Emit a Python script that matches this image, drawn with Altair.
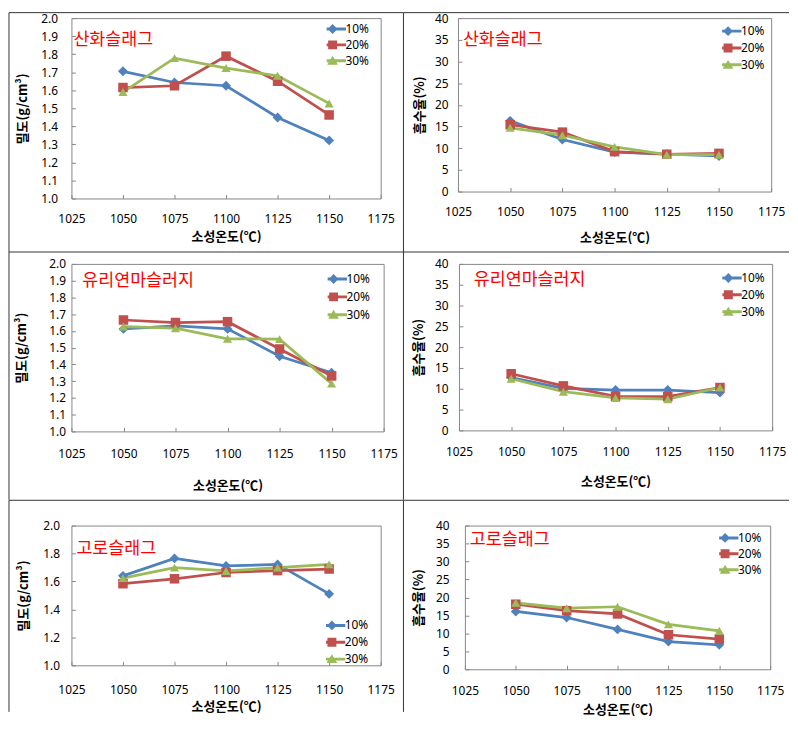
import altair as alt
import pandas as pd

# ---------------- data ----------------
temps = [1050, 1075, 1100, 1125, 1150]
series = ["10%", "20%", "30%"]
x_ticks = [1025, 1050, 1075, 1100, 1125, 1150, 1175]
material_names = ["산화슬래그", "유리연마슬러지", "고로슬래그"]

density_title = "밀도(g/cm³)"
absorption_title = "흡수율(%)"
x_title = "소성온도(℃)"

density_ticks_fine = [1.0, 1.1, 1.2, 1.3, 1.4, 1.5, 1.6, 1.7, 1.8, 1.9, 2.0]
density_ticks_coarse = [1.0, 1.2, 1.4, 1.6, 1.8, 2.0]
absorption_ticks = [0, 5, 10, 15, 20, 25, 30, 35, 40]

oxid_density_10 = [1.705, 1.643, 1.625, 1.449, 1.322]
oxid_density_20 = [1.615, 1.625, 1.789, 1.650, 1.463]
oxid_density_30 = [1.590, 1.778, 1.723, 1.680, 1.527]
oxid_absorb_10 = [16.3, 12.0, 9.1, 8.6, 8.2]
oxid_absorb_20 = [15.4, 13.7, 9.2, 8.6, 8.8]
oxid_absorb_30 = [14.7, 13.0, 10.3, 8.5, 8.5]

glass_density_10 = [1.612, 1.630, 1.612, 1.449, 1.350]
glass_density_20 = [1.665, 1.650, 1.655, 1.492, 1.331]
glass_density_30 = [1.626, 1.616, 1.553, 1.551, 1.285]
glass_absorb_10 = [12.7, 10.1, 9.7, 9.7, 9.1]
glass_absorb_20 = [13.6, 10.7, 8.2, 8.1, 10.3]
glass_absorb_30 = [12.4, 9.3, 7.8, 7.5, 10.3]

blast_density_10 = [1.640, 1.765, 1.711, 1.722, 1.511]
blast_density_20 = [1.584, 1.619, 1.664, 1.678, 1.689]
blast_density_30 = [1.624, 1.699, 1.675, 1.699, 1.722]
blast_absorb_10 = [16.1, 14.4, 11.1, 7.7, 6.8]
blast_absorb_20 = [18.1, 16.3, 15.4, 9.6, 8.4]
blast_absorb_30 = [18.5, 17.0, 17.4, 12.5, 10.7]

# ---------------- styles ----------------
colors = ["#4F81BD", "#C0504D", "#9BBB59"]
shapes = ["diamond", "square", "triangle-up"]
marker_sizes = [100, 85, 115]
_bar = "M-3,-0.33H3V0.33H-3Z"
legend_shapes = [
    _bar + "M0,-1.1L1.1,0L0,1.1L-1.1,0Z",
    _bar + "M-1,-1H1V1H-1Z",
    _bar + "M0,-1.1L1.2,0.9H-1.2Z",
]
GRAY = "#868686"
LINE_C = "#333333"
NUM_FONT = "Noto Sans, Noto Sans CJK KR"
KR_FONT = "Noto Sans CJK KR"


def make_df(v10, v20, v30):
    rows = []
    for s, vals in zip(series, [v10, v20, v30]):
        for t, v in zip(temps, vals):
            rows.append({"temp": t, "value": v, "series": s})
    return pd.DataFrame(rows)


def rule(**enc):
    return alt.Chart(pd.DataFrame({"d": [0]})).mark_rule(
        color=LINE_C, strokeWidth=1
    ).encode(**{k: alt.value(v) for k, v in enc.items()})


def panel(df, name, y_title, y_ticks, y_fmt, L, first_col):
    w, h = L["w"], L["h"]
    x_enc = alt.X(
        "temp:Q",
        scale=alt.Scale(domain=[x_ticks[0], x_ticks[-1]], nice=False, zero=False),
        axis=alt.Axis(
            values=x_ticks, format="d", title=x_title, offset=-4, tickSize=4,
            tickColor=GRAY, domain=False, grid=False, labelPadding=L["xpad"],
            labelBaseline="middle", labelFlush=False, labelOverlap=False,
            labelFontSize=12, labelFont=NUM_FONT, labelColor="#000",
            titleFont=KR_FONT, titleFontSize=13, titleFontWeight="bold",
            titleColor="#000", titleX=w / 2, titleY=L["xty"] + 4,
            titleBaseline="middle", titleAlign="center",
        ),
    )
    y_enc = alt.Y(
        "value:Q",
        scale=alt.Scale(domain=[y_ticks[0], y_ticks[-1]], nice=False, zero=False),
        axis=alt.Axis(
            values=y_ticks, format=y_fmt, title=y_title, offset=-4, tickSize=4,
            tickColor=GRAY, domain=False, grid=False, labelPadding=L["ypad"],
            labelFontSize=12, labelFont=NUM_FONT, labelColor="#000",
            titleFont=KR_FONT, titleFontSize=13, titleFontWeight="bold",
            titleColor="#000", titleX=L["ytx"] - 4, titleY=h / 2,
            titleAngle=270, titleBaseline="middle", titleAlign="center",
        ),
    )
    cscale = alt.Scale(domain=series, range=colors)

    layers = [rule(x=L["rl"], x2=L["rr"], y=L["rt"])]
    if first_col:
        layers.append(rule(x=L["rl"], y=L["rt"], y2=L["rb"]))
        layers.append(rule(x=L["rr"], y=L["rt"], y2=L["rb"]))

    lines = alt.Chart(df).mark_line(strokeWidth=2.75).encode(
        x=x_enc, y=y_enc, detail="series:N",
        color=alt.Color("series:N", scale=cscale, legend=None),
    )
    points = alt.Chart(df).mark_point(filled=True, opacity=1).encode(
        x=x_enc, y=y_enc,
        color=alt.Color("series:N", scale=cscale, legend=None),
        shape=alt.Shape("series:N", scale=alt.Scale(domain=series, range=shapes), legend=None),
        size=alt.Size("series:N", scale=alt.Scale(domain=series, range=marker_sizes), legend=None),
    )
    leg = alt.Legend(
        title=None, orient="none", legendX=L["lx"], legendY=L["ly"],
        symbolSize=81, clipHeight=L["ls"], rowPadding=0, labelOffset=7,
        labelFontSize=12, labelFont=NUM_FONT, labelColor="#000",
        symbolStrokeWidth=0, padding=0,
    )
    legend_layer = alt.Chart(df).transform_filter("false").mark_point(
        filled=True, opacity=1
    ).encode(
        x=x_enc, y=y_enc,
        color=alt.Color("series:N", scale=cscale, legend=leg),
        shape=alt.Shape("series:N", scale=alt.Scale(domain=series, range=legend_shapes), legend=leg),
    )
    label_df = pd.DataFrame({"temp": [x_ticks[0]], "value": [y_ticks[-1]], "name": [name]})
    label = alt.Chart(label_df).mark_text(
        align="left", baseline="middle", dx=L["tx"], dy=L["ty"],
        fontSize=17.5, font=KR_FONT, color="#FF0000",
    ).encode(x=x_enc, y=y_enc, text="name:N")

    layers += [lines, points, legend_layer, label]
    return alt.layer(*layers).properties(width=w, height=h).resolve_scale(
        color="independent", shape="independent", size="independent"
    )


# col-1 plots share the same left edge; rows share the same plot top.
LAY = {
    "p1": dict(w=312, h=182, rl=-63, rr=335, rt=-5.5, rb=236, xpad=20.5, xty=38.5,
               ytx=-49, ypad=14, lx=257.5, ly=3, ls=16, tx=2, ty=22.5),
    "p2": dict(w=316, h=175, rl=-55, rr=334, rt=-5.5, xpad=20.5, xty=46.5,
               ytx=-39, ypad=10, lx=266.5, ly=5, ls=16.3, tx=5, ty=21.8),
    "p3": dict(w=315, h=169, rl=-63, rr=335, rt=-12, rb=238, xpad=22.5, xty=54.5,
               ytx=-50, ypad=6, lx=258.5, ly=6.5, ls=17.5, tx=11, ty=16.8),
    "p4": dict(w=316, h=168, rl=-56, rr=333, rt=-12, xpad=21.5, xty=52,
               ytx=-41, ypad=11, lx=265.8, ly=5.7, ls=17, tx=15, ty=16.5),
    "p5": dict(w=312, h=141, rl=-63, rr=335, rt=-25.5, rb=188, xpad=24, xty=42,
               ytx=-48, ypad=12, lx=256.8, ly=92.5, ls=16.5, tx=5, ty=24.2),
    "p6": dict(w=308, h=145, rl=-62, rr=327, rt=-25.5, xpad=21, xty=40.5,
               ytx=-47, ypad=16, lx=256.5, ly=4.5, ls=16, tx=5, ty=14.5),
}

p1 = panel(make_df(oxid_density_10, oxid_density_20, oxid_density_30), material_names[0],
           density_title, density_ticks_fine, ".1f", LAY["p1"], True)
p2 = panel(make_df(oxid_absorb_10, oxid_absorb_20, oxid_absorb_30), material_names[0],
           absorption_title, absorption_ticks, "d", LAY["p2"], False)
p3 = panel(make_df(glass_density_10, glass_density_20, glass_density_30), material_names[1],
           density_title, density_ticks_fine, ".1f", LAY["p3"], True)
p4 = panel(make_df(glass_absorb_10, glass_absorb_20, glass_absorb_30), material_names[1],
           absorption_title, absorption_ticks, "d", LAY["p4"], False)
p5 = panel(make_df(blast_density_10, blast_density_20, blast_density_30), material_names[2],
           density_title, density_ticks_coarse, ".1f", LAY["p5"], True)
p6 = panel(make_df(blast_absorb_10, blast_absorb_20, blast_absorb_30), material_names[2],
           absorption_title, absorption_ticks, "d", LAY["p6"], False)

chart = alt.vconcat(
    alt.hconcat(p1, p2, spacing=-2),
    alt.hconcat(p3, p4, spacing=-2),
    alt.hconcat(p5, p6, spacing=-2),
    spacing=-2,
).properties(padding=0, background="white").configure_view(
    stroke=GRAY, strokeWidth=1
)

chart.save("out.html", embed_options={"renderer": "svg", "actions": False})
